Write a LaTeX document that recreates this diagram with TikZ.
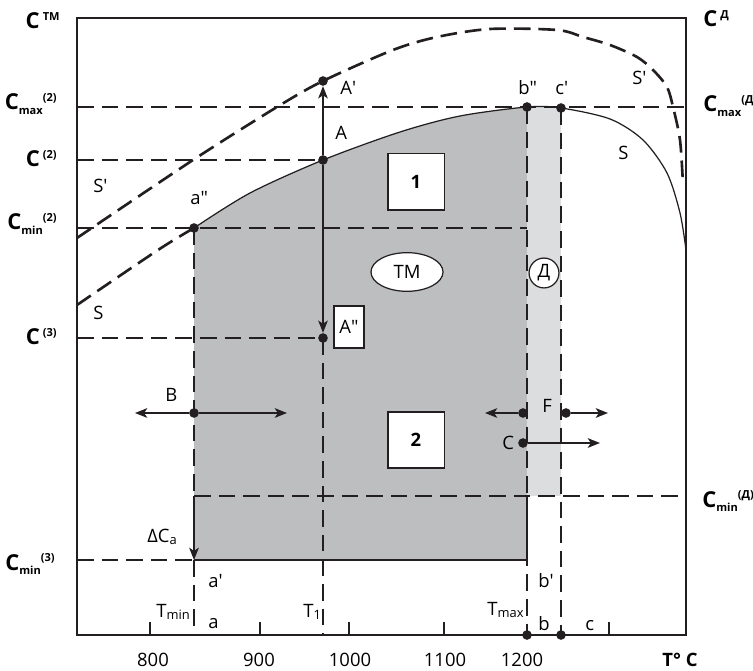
\documentclass[tikz,border=0pt]{standalone}
\usepackage{fontspec}
\setmainfont{Open Sans}
\usetikzlibrary{arrows.meta,shapes.geometric,calc}
\definecolor{cInk}{HTML}{231F20}
\definecolor{cZone}{HTML}{BCBEC0}
\definecolor{cZoneD}{HTML}{DCDDDE}
\newcommand\figfont{\fontsize{10.5}{12.5}\selectfont}
\newcommand\axC{{\fontsize{12.5}{14}\selectfont C}}
\newcommand\lo[1]{\raisebox{-2.8pt}{\fontsize{6.3}{7}\selectfont #1}}
\newcommand\hi[1]{\raisebox{4.6pt}{\fontsize{6.3}{7}\selectfont #1}}
\tikzset{
  frame/.style={draw=cInk,line width=1.6pt},
  guide/.style={draw=cInk,line width=1.5pt,dash pattern=on 9.5pt off 4.5pt},
  sline/.style={draw=cInk,line width=0.7pt},
  edge/.style={-{Stealth[length=7pt,width=5.5pt,inset=1.8pt]},line width=0.7pt,draw=cInk},
  dot/.style={circle,fill=cInk,inner sep=0pt,minimum size=5.5pt},
  sq/.style={draw=cInk,fill=white,line width=0.7pt,minimum size=32pt,inner sep=0pt,font=\figfont\bfseries},
  tag/.style={draw=cInk,fill=white,line width=0.7pt,minimum width=17pt,minimum height=24pt,inner sep=0pt},
  zone/.style={draw=cInk,fill=white,line width=0.7pt,inner sep=0pt},
  lbl/.style={anchor=base west,inner sep=0pt},
  axl/.style={anchor=base east,inner sep=0pt,font=\figfont\bfseries},
  axr/.style={anchor=base west,inner sep=0pt,font=\figfont\bfseries},
  num/.style={anchor=base,inner sep=0pt},
  tick/.style={draw=cInk,line width=0.7pt},
}
\begin{document}
\begin{tikzpicture}[x=0.02cm,y=-0.02cm,font=\figfont]
  \useasboundingbox (0,0) rectangle (753,671);
  \coordinate (O) at (77,635);
  \coordinate (E) at (686,18);
  \coordinate (dca) at (194,496);
  \coordinate (dcb) at (194,560);

  \begin{scope}
    \clip (194,0) rectangle (527,560);
    \fill[cZone] plot[smooth] coordinates {(194,228) (250,193) (323,160) (400,132) (460,116) (527,107) (561,108) (610,119) (643,140) (667,173) (680,213) (686,250)} -- (686,560) -- (194,560) -- cycle;
  \end{scope}
  \fill[cZoneD] (527,107) rectangle (561,496);

  \node[dot] (app) at (194,228) {};
  \node[dot] (A) at (323,160) {};
  \node[dot] (Ap) at (323,81) {};
  \node[dot] (App) at (323,338) {};
  \node[dot] (bpp) at (527,107) {};
  \node[dot] (cp) at (561,108) {};
  \node[dot] (B) at (194,413) {};
  \node[dot] (Fl) at (523,413) {};
  \node[dot] (Fr) at (566,413) {};
  \node[dot] (C) at (523,443) {};
  \node[dot] (b) at (527,635) {};
  \node[dot] (c) at (561,635) {};
  \coordinate (Bl) at (135,413);
  \coordinate (Br) at (287,413);
  \coordinate (Fle) at (485,413);
  \coordinate (Fre) at (608,413);
  \coordinate (Ce) at (600,443);

  \draw[guide] (O |- bpp) -- (E |- bpp);
  \draw[guide] (O |- A) -- (A.center);
  \draw[guide] (O |- app) -- (bpp |- app);
  \draw[guide] (O |- App) -- (App.center);
  \draw[guide] (dca) -- (E |- dca);
  \draw[guide] (O |- dcb) -- (dcb);
  \draw[guide] (app.center) -- (dca);
  \draw[guide] (dcb) -- (app |- O);
  \draw[guide] (App.center) -- (App |- O);
  \draw[guide] (bpp.center) -- (b.center);
  \draw[guide] (cp.center) -- (c.center);
  \draw[cInk,line width=1.3pt] (dcb) -- (bpp |- dcb) -- (bpp |- dca);

  \draw[guide] plot[smooth] coordinates {(77,305) (158,250) (194,228)};
  \draw[sline] plot[smooth] coordinates {(194,228) (250,193) (323,160) (400,132) (460,116) (527,107) (561,108) (610,119) (643,140) (667,173) (680,213) (686,250)};
  \draw[guide] plot[smooth] coordinates {(77,238) (193,160) (277,107) (323,81) (393,50) (437,37) (490,29) (557,30) (583,37) (610,45) (637,57) (653,70) (667,87) (673,107) (680,140) (683,185)};

  \draw[edge] (A) -- (Ap);
  \draw[edge] (A) -- (App);
  \draw[edge] (B) -- (Bl);
  \draw[edge] (B) -- (Br);
  \draw[edge] (Fl) -- (Fle);
  \draw[edge] (Fr) -- (Fre);
  \draw[edge] (C) -- (Ce);
  \draw[edge] (dca) -- (dcb);

  \draw[frame] (O) rectangle (E);
  \foreach \x in {150,260,349,444,609}
    \draw[tick] (\x,635) -- (\x,622);

  \node[sq] (one) at (416,182) {1};
  \node[sq] (two) at (416,440) {2};
  \node[zone,ellipse,minimum width=41pt,minimum height=22pt] (tm) at (407,272) {ТМ};
  \node[tag] (tagApp) at (349,327) {A\textquotedbl};
  \node[zone,circle,minimum size=17pt] (dz) at (544,273) {Д};

  \node[lbl] at (340,95) {A\textquotesingle};
  \node[lbl] at (335,140) {A};
  \node[lbl] at (190,205) {a\textquotedbl};
  \node[lbl] at (93,193) {S\textquotesingle};
  \node[lbl] at (93,320) {S};
  \node[lbl] at (518,95) {b\textquotedbl};
  \node[lbl] at (555,95) {c\textquotesingle};
  \node[lbl] at (632,85) {S\textquotesingle};
  \node[lbl] at (618,160) {S};
  \node[lbl] at (165,402) {B};
  \node[lbl] at (542,413) {F};
  \node[lbl] at (502,450) {C};
  \node[lbl] at (147,542) {ΔC\textsubscript{a}};

  \node[axl] at (60,29) {\axC\,\hi{ТМ}};
  \node[axl] at (57,110) {\axC\lo{max}\hi{(2)}};
  \node[axl] at (57,167) {\axC\,\hi{(2)}};
  \node[axl] at (57,230) {\axC\lo{min}\hi{(2)}};
  \node[axl] at (57,345) {\axC\,\hi{(3)}};
  \node[axl] at (55,570) {\axC\lo{min}\hi{(3)}};
  \node[axr] at (703,27) {\axC\,\hi{Д}};
  \node[axr] at (703,112) {\axC\lo{max}\hi{(Д)}};
  \node[axr] at (702,507) {\axC\lo{min}\hi{(Д)}};

  \node[lbl] at (156,617) {T\textsubscript{min}};
  \node[lbl] at (208,628) {a};
  \node[lbl] at (208,587) {a\textquotesingle};
  \node[lbl] at (303,617) {T\textsubscript{1}};
  \node[lbl] at (487,615) {T\textsubscript{max}};
  \node[lbl] at (538,630) {b};
  \node[lbl] at (538,587) {b\textquotesingle};
  \node[lbl] at (585,630) {c};
  \foreach \x/\t in {153/800,259/900,350/1000,445/1100,522/1200}
    \node[num] at (\x,666) {\t};
  \node[num,font=\figfont\bfseries] at (680,666) {T° C};
\end{tikzpicture}
\end{document}
